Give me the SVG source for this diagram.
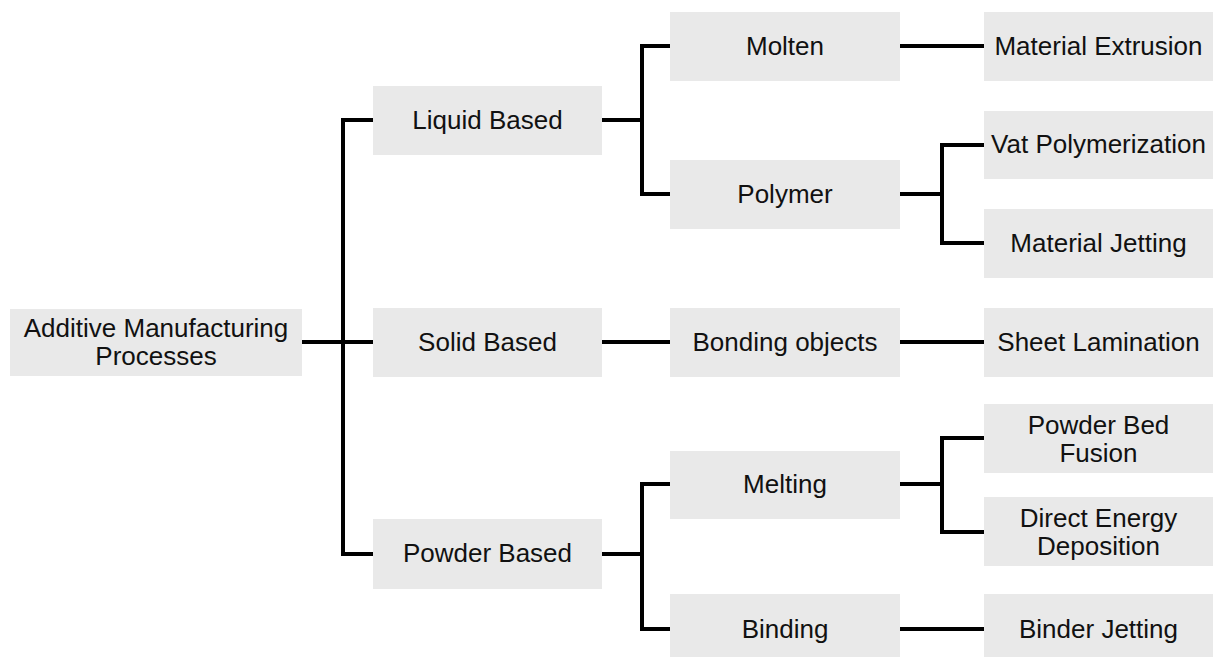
<svg xmlns="http://www.w3.org/2000/svg" width="1213" height="657" viewBox="0 0 1213 657">
<style>
.box{fill:#e9e9e9}
.t{font-family:"Liberation Sans",Arial,sans-serif;font-size:26px;fill:#111;text-anchor:middle}
.c{fill:none;stroke:#000;stroke-width:4;stroke-linejoin:miter;stroke-linecap:butt}
</style>
<rect width="1213" height="657" fill="#fff"/>
<g id="connectors">
<path class="c" d="M302 342H373"/>
<path class="c" d="M373 120H343V554H373"/>
<path class="c" d="M602 120H642"/>
<path class="c" d="M670 46H642V194H670"/>
<path class="c" d="M900 46H984"/>
<path class="c" d="M900 194H942"/>
<path class="c" d="M984 145H942V243H984"/>
<path class="c" d="M602 342H670"/>
<path class="c" d="M900 342H984"/>
<path class="c" d="M602 554H642"/>
<path class="c" d="M670 484H642V629H670"/>
<path class="c" d="M900 484H942"/>
<path class="c" d="M984 438H942V532H984"/>
<path class="c" d="M900 629H984"/>
</g>
<g id="root"><rect class="box" x="10" y="309" width="292" height="67"/><text class="t" x="156" y="337">Additive Manufacturing</text><text class="t" x="156" y="365">Processes</text></g>
<g id="liquid"><rect class="box" x="373" y="86" width="229" height="69"/><text class="t" x="487.5" y="129">Liquid Based</text></g>
<g id="solid"><rect class="box" x="373" y="308" width="229" height="69"/><text class="t" x="487.5" y="351">Solid Based</text></g>
<g id="powder"><rect class="box" x="373" y="519" width="229" height="70"/><text class="t" x="487.5" y="562">Powder Based</text></g>
<g id="molten"><rect class="box" x="670" y="12" width="230" height="69"/><text class="t" x="785" y="55">Molten</text></g>
<g id="polymer"><rect class="box" x="670" y="160" width="230" height="69"/><text class="t" x="785" y="203">Polymer</text></g>
<g id="bonding"><rect class="box" x="670" y="308" width="230" height="69"/><text class="t" x="785" y="351">Bonding objects</text></g>
<g id="melting"><rect class="box" x="670" y="451" width="230" height="68"/><text class="t" x="785" y="493">Melting</text></g>
<g id="binding"><rect class="box" x="670" y="594" width="230" height="70"/><text class="t" x="785" y="638">Binding</text></g>
<g id="extrusion"><rect class="box" x="984" y="12" width="229" height="69"/><text class="t" x="1098.5" y="55">Material Extrusion</text></g>
<g id="vat"><rect class="box" x="984" y="111" width="229" height="68"/><text class="t" x="1098.5" y="153">Vat Polymerization</text></g>
<g id="jetting"><rect class="box" x="984" y="209" width="229" height="69"/><text class="t" x="1098.5" y="252">Material Jetting</text></g>
<g id="sheet"><rect class="box" x="984" y="308" width="229" height="69"/><text class="t" x="1098.5" y="351">Sheet Lamination</text></g>
<g id="pbf"><rect class="box" x="984" y="404" width="229" height="69"/><text class="t" x="1098.5" y="434">Powder Bed</text><text class="t" x="1098.5" y="462">Fusion</text></g>
<g id="ded"><rect class="box" x="984" y="497" width="229" height="69"/><text class="t" x="1098.5" y="527">Direct Energy</text><text class="t" x="1098.5" y="555">Deposition</text></g>
<g id="binder"><rect class="box" x="984" y="594" width="229" height="70"/><text class="t" x="1098.5" y="638">Binder Jetting</text></g>
</svg>
